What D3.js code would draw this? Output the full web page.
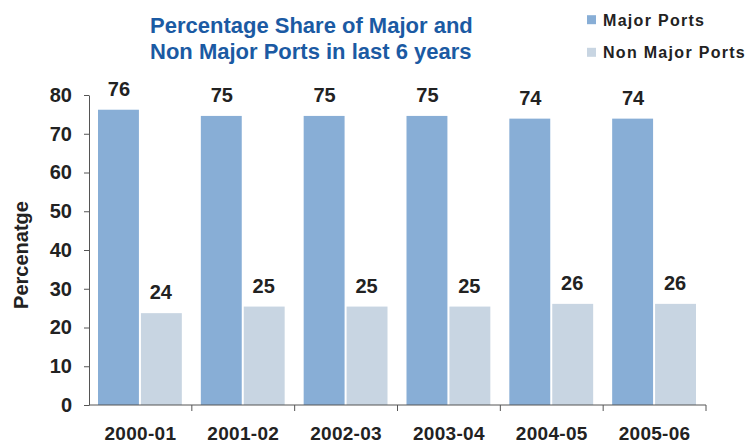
<!DOCTYPE html>
<html><head><meta charset="utf-8">
<script src="https://cdn.jsdelivr.net/npm/d3@7"></script>
<style>body{margin:0;background:#fff;} text{font-family:"Liberation Sans",Arial,sans-serif;}</style>
</head><body>
<svg id="c" width="752" height="446"></svg>
<script>
const categories = ["2000-01","2001-02","2002-03","2003-04","2004-05","2005-06"];
const seriesNames = ["Major Ports","Non Major Ports"];
const majorPorts = [76.2, 74.6, 74.6, 74.6, 73.9, 73.9];
const nonMajorPorts = [23.7, 25.4, 25.4, 25.4, 26.1, 26.1];
const majorLabels = [76, 75, 75, 75, 74, 74];
const nonMajorLabels = [24, 25, 25, 25, 26, 26];
const yTicks = [0,10,20,30,40,50,60,70,80];
const colors = ["#88AED6", "#C8D5E2"];

const svg = d3.select("#c");
const x0 = 89, x1 = 706, yTop = 95, yBot = 405;
const x = d3.scaleBand().domain(categories).range([x0, x1]).paddingInner(0).paddingOuter(0);
const y = d3.scaleLinear().domain([0, 80]).range([yBot, yTop]);
const xs = d3.scaleBand().domain([0,1]).range([9, x.bandwidth() - 10]).padding(0);

const data = categories.map((c,i)=>({c, vals:[majorPorts[i], nonMajorPorts[i]], labs:[majorLabels[i], nonMajorLabels[i]]}));

const g = svg.append("g");
data.forEach(d=>{
  d.vals.forEach((v,j)=>{
    g.append("rect")
      .attr("x", x(d.c) + xs(j) + (j===0?0:1))
      .attr("width", xs.bandwidth() - 1)
      .attr("y", y(v))
      .attr("height", y(0) - y(v))
      .attr("fill", colors[j]);
    g.append("text")
      .attr("x", x(d.c) + xs(j) + xs.bandwidth()/2)
      .attr("y", y(v) - 14)
      .attr("text-anchor","middle")
      .attr("font-size", 20).attr("font-weight","bold").attr("fill","#222")
      .text(d.labs[j]);
  });
});

// y axis
const ya = svg.append("g").attr("transform",`translate(${x0},0)`)
  .call(d3.axisLeft(y).tickValues(yTicks).tickSize(5).tickSizeOuter(0).tickPadding(12));
ya.select(".domain").attr("stroke","#555");
ya.selectAll(".tick line").attr("stroke","#555");
ya.selectAll("text").attr("font-size",20).attr("font-weight","bold").attr("fill","#222")
  .attr("font-family","Liberation Sans, Arial, sans-serif");

// x axis
const xa = svg.append("g").attr("transform",`translate(0,${yBot})`);
xa.append("line").attr("x1",x0).attr("x2",x1).attr("y1",0).attr("y2",0).attr("stroke","#555");
categories.forEach(c=>{
  xa.append("line").attr("x1",x(c)+x.bandwidth()).attr("x2",x(c)+x.bandwidth()).attr("y1",0).attr("y2",6).attr("stroke","#555");
  xa.append("text").attr("x",x(c)+x.bandwidth()/2).attr("y",35).attr("text-anchor","middle")
    .attr("font-size",19).attr("font-weight","bold").attr("fill","#222").attr("letter-spacing",0.3).text(c);
});

// y title
svg.append("text").attr("transform","translate(28,255) rotate(-90)").attr("text-anchor","middle")
  .attr("font-size",20).attr("font-weight","bold").attr("fill","#222").text("Percenatge");

// title
const title = svg.append("text").attr("text-anchor","start").attr("font-size",22).attr("font-weight","bold").attr("fill","#1B5AA3");
title.append("tspan").attr("x",150).attr("y",33).text("Percentage Share of Major and");
title.append("tspan").attr("x",150).attr("y",59).text("Non Major Ports in last 6 years");

// legend
seriesNames.forEach((n,i)=>{
  const ly = 25.7 + i*32.6;
  svg.append("rect").attr("x",587).attr("y",ly-10.5).attr("width",9).attr("height",9).attr("fill",colors[i]);
  svg.append("text").attr("x",603).attr("y",ly).attr("font-size",16).attr("font-weight","bold").attr("fill","#222")
    .attr("letter-spacing",1.3).text(n);
});
</script>
</body></html>
